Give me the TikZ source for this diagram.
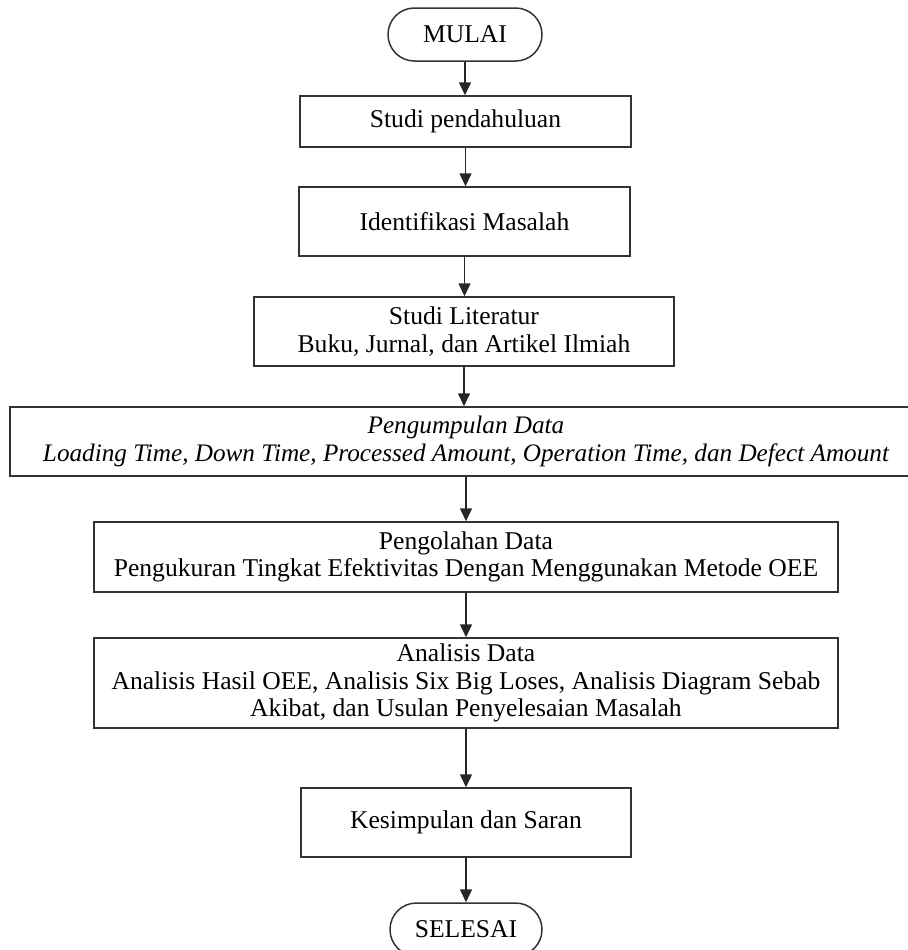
\documentclass[tikz,border=0pt]{standalone}
\usepackage{fontspec}
\setmainfont{Liberation Serif}
\usetikzlibrary{arrows.meta}
\begin{document}
\begin{tikzpicture}[x=0.5pt,y=-0.5pt,
  every node/.style={font=\fontsize{12.8}{13.7}\selectfont, text=black, align=center, inner sep=0pt},
  box/.style={draw=black!80, line width=0.75pt, rectangle},
  term/.style={draw=black!80, line width=0.75pt, rectangle, rounded corners=13.2pt, minimum width=77pt, minimum height=26.5pt},
  itx/.style={font=\fontsize{12.6}{13.7}\selectfont\itshape},
  arr/.style={draw=black!85, line width=0.75pt, -{Triangle[length=6.5pt,width=6pt]}}]
\clip (0,0) rectangle (908,950);
\node[term] (mulai) at (465,34.5) {MULAI};
\node[box, minimum width=165.5pt, minimum height=25.5pt] (studi) at (465.5,121.5) {Studi pendahuluan};
\node[box, minimum width=165.5pt, minimum height=34.5pt] (ident) at (464.5,221.5) {Identifikasi Masalah};
\node[box, minimum width=210pt, minimum height=34.5pt] (lit) at (464,331.5) {Studi Literatur\\Buku, Jurnal, dan Artikel Ilmiah};
\node[box, itx, minimum width=456pt, minimum height=34.5pt] (kumpul) at (466,441.5) {Pengumpulan Data\\Loading Time, Down Time, Processed Amount, Operation Time, dan Defect Amount};
\node[box, minimum width=372pt, minimum height=35pt] (olah) at (466,557) {Pengolahan Data\\Pengukuran Tingkat Efektivitas Dengan Menggunakan Metode OEE};
\node[box, minimum width=372pt, minimum height=45pt] (anal) at (466,683) {Analisis Data\\Analisis Hasil OEE, Analisis Six Big Loses, Analisis Diagram Sebab\\Akibat, dan Usulan Penyelesaian Masalah};
\node[box, minimum width=165pt, minimum height=34.5pt] (simpul) at (466,822.5) {Kesimpulan dan Saran};
\node[term, minimum width=76pt] (selesai) at (466,929.5) {SELESAI};
\draw[arr] (mulai.south) -- (mulai.south |- studi.north);
\draw[arr] (studi.south) -- (studi.south |- ident.north);
\draw[arr] (ident.south) -- (ident.south |- lit.north);
\draw[arr] (lit.south) -- (lit.south |- kumpul.north);
\draw[arr] (kumpul.south) -- (kumpul.south |- olah.north);
\draw[arr] (olah.south) -- (olah.south |- anal.north);
\draw[arr] (anal.south) -- (anal.south |- simpul.north);
\draw[arr] (simpul.south) -- (simpul.south |- selesai.north);
\end{tikzpicture}
\end{document}
